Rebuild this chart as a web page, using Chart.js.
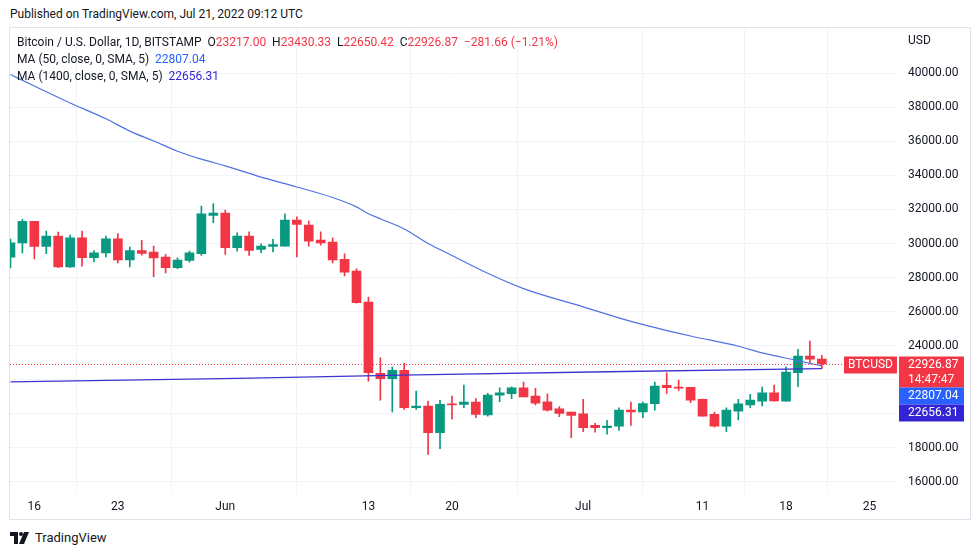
<!DOCTYPE html>
<html>
<head>
<meta charset="utf-8">
<script src="https://cdn.jsdelivr.net/npm/chart.js@4.4.1/dist/chart.umd.min.js"></script>
<style>
  html, body { margin: 0; padding: 0; background: #fff; }
  body { width: 979px; height: 555px; position: relative; overflow: hidden;
         font-family: Roboto, 'Liberation Sans', sans-serif; color: #131722; }
  #pub { position: absolute; left: 10px; top: 7px; font-size: 12px; }
  #frame { position: absolute; left: 9px; top: 27px; width: 962px; height: 493px;
           border: 1px solid #e0e3eb; box-sizing: border-box; }
  #wrap { position: absolute; left: 10px; top: 11px; width: 960px; height: 509px; }
  .leg { position: absolute; left: 17px; font-size: 12px; white-space: nowrap; line-height: 14px; }
  .red { color: #f23645; }
  #usd { position: absolute; left: 908px; top: 33px; font-size: 12px; }
  #logo { position: absolute; left: 10px; top: 530px; font-size: 13px; display: flex; align-items: center; gap: 6px; }
</style>
</head>
<body>
<div id="pub">Published on TradingView.com, Jul 21, 2022 09:12 UTC</div>
<div id="frame"></div>
<div id="wrap"><canvas id="c"></canvas></div>
<div class="leg" style="top:35px">Bitcoin / U.S. Dollar, 1D, BITSTAMP&nbsp;&nbsp;O<span class="red">23217.00</span>&nbsp;&nbsp;H<span class="red">23430.33</span>&nbsp;&nbsp;L<span class="red">22650.42</span>&nbsp;&nbsp;C<span class="red">22926.87</span>&nbsp;&nbsp;<span class="red">−281.66 (−1.21%)</span></div>
<div class="leg" style="top:52px">MA (50, close, 0, SMA, 5)&nbsp;&nbsp;<span style="color:#2962ff">22807.04</span></div>
<div class="leg" style="top:69px">MA (1400, close, 0, SMA, 5)&nbsp;&nbsp;<span style="color:#3325d4">22656.31</span></div>
<div id="usd">USD</div>
<div id="logo">
  <svg width="19" height="12" viewBox="0 0 19 12">
    <path d="M0 0h8v12h-4v-8h-4z" fill="#131722"/>
    <circle cx="11" cy="2" r="2" fill="#131722"/>
    <path d="M14 0h5l-5 12h-5z" fill="#131722"/>
  </svg>
  <span>TradingView</span>
</div>
<script>
'use strict';

// ── Data (daily candles, May 14 – Jul 21 2022, BITSTAMP) ───────────
const dates = [
  'May 14','May 15','May 16','May 17','May 18','May 19','May 20','May 21','May 22','May 23',
  'May 24','May 25','May 26','May 27','May 28','May 29','May 30','May 31','Jun 1','Jun 2',
  'Jun 3','Jun 4','Jun 5','Jun 6','Jun 7','Jun 8','Jun 9','Jun 10','Jun 11','Jun 12',
  'Jun 13','Jun 14','Jun 15','Jun 16','Jun 17','Jun 18','Jun 19','Jun 20','Jun 21','Jun 22',
  'Jun 23','Jun 24','Jun 25','Jun 26','Jun 27','Jun 28','Jun 29','Jun 30','Jul 1','Jul 2',
  'Jul 3','Jul 4','Jul 5','Jul 6','Jul 7','Jul 8','Jul 9','Jul 10','Jul 11','Jul 12',
  'Jul 13','Jul 14','Jul 15','Jul 16','Jul 17','Jul 18','Jul 19','Jul 20','Jul 21'
];
const open = [
  29200,30040,31300,29830,30430,28620,30330,29170,29450,30280,
  29030,29590,29490,29200,28580,29000,29400,31650,31780,29750,
  30430,29650,29830,29850,31370,31080,30200,30080,29070,28380,
  26560,22380,22060,22550,20360,20460,18890,20590,20560,20690,
  19930,21090,21180,21530,21040,20700,20300,20100,20000,19320,
  19190,19280,20220,20120,20600,21670,21570,21550,20850,19970,
  19280,20160,20520,20750,21240,20750,22410,23390,23217.00
];
const high = [
  30260,31414,31305,30730,30670,30490,30730,29590,30430,30590,
  29790,30180,29850,29360,29160,29550,32200,32350,31960,30630,
  30690,29980,30240,31745,31570,31310,30690,30340,29400,28520,
  26855,23290,22750,22960,21340,20750,20790,21045,21690,20890,
  21200,21530,21590,21870,21500,21180,20420,20110,20850,19440,
  19620,20360,20690,20690,21870,22410,21980,21560,20860,20100,
  20360,20850,21145,21570,21690,22760,23790,24270,23430.33
];
const low = [
  28570,29454,29100,29400,28600,28600,28670,28920,29220,28860,
  28630,29320,28050,28280,28520,28910,29300,31220,29360,29550,
  29300,29460,29510,29850,29220,29850,29900,28860,28090,26500,
  21925,20810,20120,20260,20260,17620,17950,19680,20360,19770,
  19870,20710,20890,20990,20520,20160,19830,18600,18950,18930,
  18800,19030,19320,19770,20220,21200,21380,20650,19860,19220,
  18950,19640,20360,20460,20740,20740,21590,22940,22650.42
];
const close = [
  30040,31300,29830,30430,28620,30330,29170,29450,30280,29030,
  29590,29420,29160,28580,29020,29450,31740,31780,29750,30430,
  29590,29850,29940,31370,31120,30140,30040,29030,28320,26520,
  22410,22060,22550,20360,20460,18890,20560,20520,20690,19970,
  21100,21240,21530,21000,20620,20220,20030,19910,19190,19190,
  19280,20220,20120,20600,21630,21530,21500,20810,19870,19280,
  20220,20590,20810,21240,20760,22450,23390,23217,22926.87
];

// Moving averages (day index from May 14)
const ma50Days = [0, 2, 5, 8, 10, 12, 14, 16, 18, 21, 24, 27, 29, 30, 31, 33, 35, 37, 40, 43, 48, 52, 57, 61, 63, 66, 68];
const ma50Vals = [39920, 39250, 38250, 37320, 36600, 36020, 35420, 34950, 34560, 33900, 33320, 32700, 32150,
                  31750, 31450, 30850, 30000, 29300, 28250, 27350, 26280, 25430, 24570, 23970, 23580, 23120, 22807.04];
const ma1400Days = [0, 19, 34, 50, 68];
const ma1400Vals = [21880, 22080, 22290, 22470, 22656.31];

// Axis ticks
const tickDays   = [2, 9, 18, 30, 37, 48, 58, 65, 72];
const tickLabels = ['16', '23', 'Jun', '13', '20', 'Jul', '11', '18', '25'];
const priceTicks = [16000, 18000, 20000, 22000, 24000, 26000, 28000, 30000, 32000, 34000, 36000, 38000, 40000];

const UP = '#089981', DOWN = '#f23645';
const MA50_COLOR = '#4f72e3', MA1400_COLOR = '#3f33cf';
const GRID = '#f0f3fa';
const FONT = { size: 12, family: 'Roboto, "Liberation Sans", sans-serif' };

const colors = close.map((c, i) => c >= open[i] ? UP : DOWN);

// ── Price tags / last-price line ─────────────────────────────────────
const tagPlugin = {
  id: 'tags',
  afterDatasetsDraw(chart) {
    const { ctx, chartArea: a, scales: { y } } = chart;
    const last = close[close.length - 1];
    const py = Math.round(y.getPixelForValue(last)) + 0.5;
    const boxL = a.right + 2, boxW = 65, lblW = 53;
    ctx.save();
    ctx.strokeStyle = DOWN; ctx.lineWidth = 1; ctx.setLineDash([1, 2]);
    ctx.beginPath(); ctx.moveTo(a.left, py); ctx.lineTo(a.right - lblW, py); ctx.stroke();
    ctx.setLineDash([]);

    ctx.font = `12px ${FONT.family}`;
    ctx.textBaseline = 'middle';
    // symbol label
    ctx.fillStyle = DOWN;
    ctx.fillRect(a.right - lblW, py - 8, lblW, 17);
    ctx.fillStyle = '#fff'; ctx.textAlign = 'center';
    ctx.fillText('BTCUSD', a.right - lblW / 2, py + 0.5);
    // last price + countdown
    ctx.textAlign = 'left';
    ctx.fillStyle = DOWN;
    ctx.fillRect(boxL, py - 8, boxW, 31);
    ctx.fillStyle = '#fff';
    ctx.fillText(last.toFixed(2), a.right + 11, py + 0.5);
    ctx.fillText('14:47:47', a.right + 11, py + 15.5);
    // MA values
    ctx.fillStyle = '#2962ff';
    ctx.fillRect(boxL, py + 23, boxW, 17);
    ctx.fillStyle = '#fff';
    ctx.fillText(ma50Vals[ma50Vals.length - 1].toFixed(2), a.right + 11, py + 31.5);
    ctx.fillStyle = '#3325d4';
    ctx.fillRect(boxL, py + 40, boxW, 17);
    ctx.fillStyle = '#fff';
    ctx.fillText(ma1400Vals[ma1400Vals.length - 1].toFixed(2), a.right + 11, py + 48.5);
    ctx.restore();
  }
};

new Chart(document.getElementById('c'), {
  type: 'bar',
  data: {
    datasets: [
      {
        type: 'line', label: 'MA50', order: 0,
        data: ma50Days.map((d, i) => ({ x: d, y: ma50Vals[i] })),
        borderColor: MA50_COLOR, borderWidth: 1.2, pointRadius: 0,
        cubicInterpolationMode: 'monotone', clip: 0
      },
      {
        type: 'line', label: 'MA1400', order: 0,
        data: ma1400Days.map((d, i) => ({ x: d, y: ma1400Vals[i] })),
        borderColor: MA1400_COLOR, borderWidth: 1.3, pointRadius: 0, clip: 0
      },
      {
        label: 'wick', order: 2, grouped: false, clip: 0,
        data: dates.map((_, i) => ({ x: i, y: [low[i], high[i]] })),
        backgroundColor: colors, barThickness: 1, borderWidth: 0
      },
      {
        label: 'body', order: 1, grouped: false, clip: 0,
        data: dates.map((_, i) => ({ x: i, y: [open[i], close[i]] })),
        backgroundColor: colors, barThickness: 9, borderWidth: 0, minBarLength: 1
      }
    ]
  },
  options: {
    responsive: true, maintainAspectRatio: false, animation: false,
    layout: { padding: 0 },
    plugins: { legend: { display: false }, tooltip: { enabled: false } },
    scales: {
      x: {
        type: 'linear', min: -0.04, max: 74.3, offset: false,
        grid: { color: GRID, drawTicks: false },
        border: { display: false },
        afterBuildTicks: s => { s.ticks = tickDays.map(v => ({ value: v })); },
        afterFit: s => { s.height = 26; },
        ticks: {
          autoSkip: false, maxRotation: 0, padding: 6, font: FONT, color: '#131722',
          callback: v => tickLabels[tickDays.indexOf(v)]
        }
      },
      y: {
        position: 'right', min: 15294, max: 42582,
        grid: { color: GRID, drawTicks: false },
        border: { display: false },
        afterBuildTicks: s => { s.ticks = priceTicks.map(v => ({ value: v })); },
        afterFit: s => { s.width = 73; },
        ticks: { padding: 11, font: FONT, color: '#131722', callback: v => v.toFixed(2) }
      }
    }
  },
  plugins: [tagPlugin]
});
</script>
</body>
</html>
